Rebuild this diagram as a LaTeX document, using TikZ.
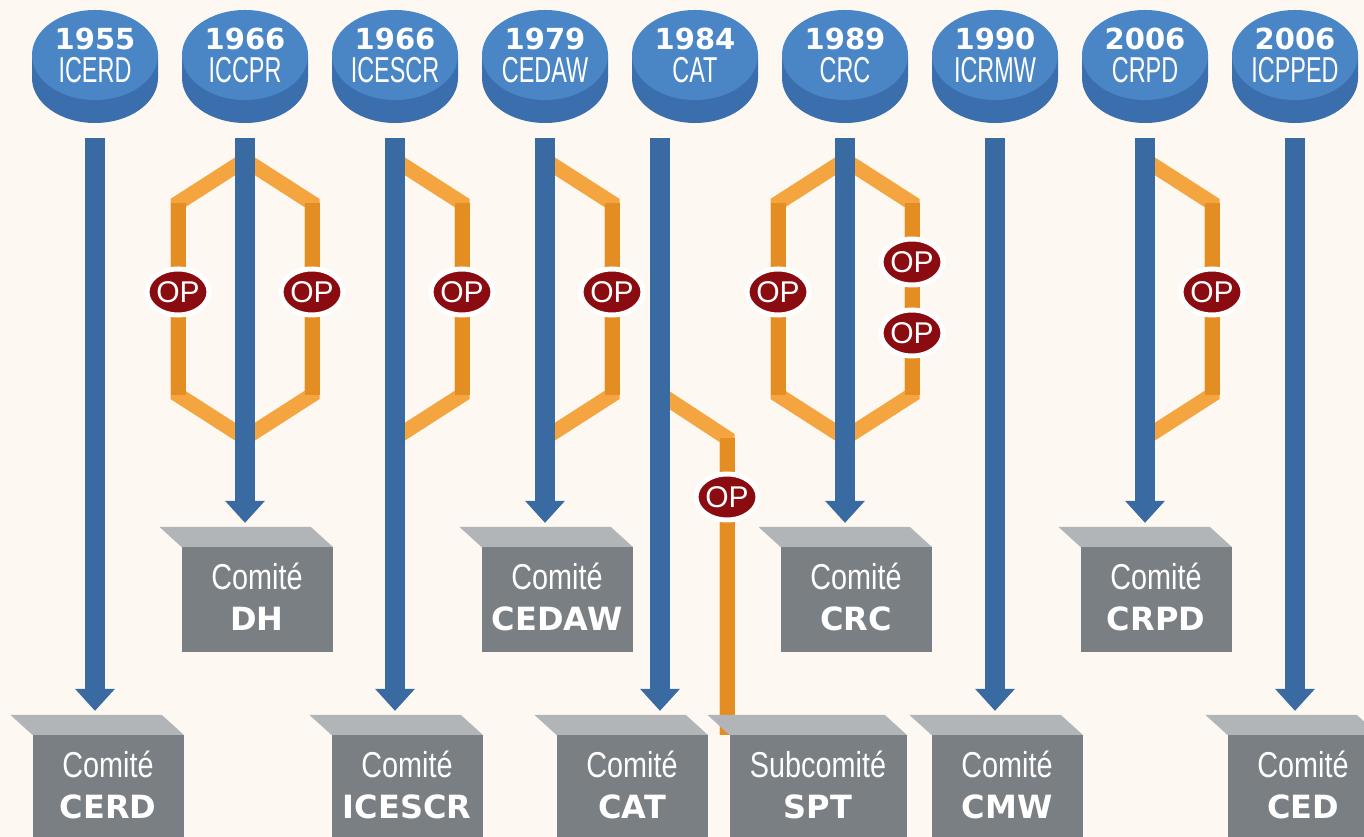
\documentclass[tikz,border=0pt]{standalone}
\usepackage{fontspec}
\setmainfont{Liberation Sans}
\newfontfamily\condfont[FakeStretch=0.65]{Liberation Sans}
\newfontfamily\narrowfont[FakeStretch=0.8]{Liberation Sans}
\newfontfamily\heavyfont{DejaVu Sans}
\usetikzlibrary{arrows.meta,shapes.geometric}

\definecolor{paper}{HTML}{FDF9F2}
\definecolor{disctop}{HTML}{4A86C6}
\definecolor{discside}{HTML}{3A6EAD}
\definecolor{blueline}{HTML}{3A6AA2}
\definecolor{protlight}{HTML}{F4A540}
\definecolor{protdark}{HTML}{E48D22}
\definecolor{opred}{HTML}{8A0B10}
\definecolor{boxfront}{HTML}{7A7F83}
\definecolor{boxtop}{HTML}{B2B5B7}

\tikzset{
  disc/.style={ellipse, fill=disctop, minimum width=126pt, minimum height=90pt,
    inner sep=0pt, text=white, align=center, font=\condfont\fontsize{36}{33}\selectfont},
  flow/.style={draw=blueline, line width=20pt,
    -{Triangle[width=40pt,length=22pt,line width=0pt]}, shorten <=38pt, shorten >=24pt},
  protocol/.style={draw=protlight, line width=15pt, line join=miter},
  protside/.style={draw=protdark, line width=15pt},
  opnode/.style={ellipse, fill=opred, draw=white, line width=5pt, minimum width=62pt,
    minimum height=46pt, inner sep=0pt, text=white, font=\fontsize{30}{30}\selectfont},
  comite/.style={fill=boxfront, minimum width=151pt, minimum height=105pt, inner sep=0pt,
    text=white, align=center, text depth=6pt, font=\narrowfont\fontsize{36}{41}\selectfont}
}

% disc with year and treaty
\newcommand{\treaty}[4]{%
  \fill[discside] (#2-63,782) -- (#2-63,759) arc[start angle=180,end angle=360,x radius=63,y radius=45] -- (#2+63,782) -- cycle;
  \node[disc] (#1) at (#2,782) {{\heavyfont\bfseries\fontsize{29}{33}\selectfont #3}\\#4};}
% top face of a committee box
\newcommand{\lid}[1]{\fill[boxtop] (#1.north west) -- ++(-22,20) -- ([shift={(-22,20)}]#1.north east) -- (#1.north east) -- cycle;}
\newcommand{\shortname}[1]{{\heavyfont\bfseries\fontsize{32}{41}\selectfont #1}}

\begin{document}
\begin{tikzpicture}[x=1pt,y=1pt]
\useasboundingbox (0,0) rectangle (1364,837);
\clip (0,0) rectangle (1364,837);
\fill[paper] (0,0) rectangle (1364,837);

% treaties
\treaty{icerd}{95}{1955}{ICERD}
\treaty{iccpr}{245}{1966}{ICCPR}
\treaty{icescr}{395}{1966}{ICESCR}
\treaty{cedaw}{545}{1979}{CEDAW}
\treaty{cat}{695}{1984}{CAT}
\treaty{crc}{845}{1989}{CRC}
\treaty{icrmw}{995}{1990}{ICRMW}
\treaty{crpd}{1145}{2006}{CRPD}
\treaty{icpped}{1295}{2006}{ICPPED}

% committees
\node[comite] (boxdh) at (257,237.5) {Comité\\\shortname{DH}};
\node[comite] (boxcedaw) at (557,237.5) {Comité\\\shortname{CEDAW}};
\node[comite] (boxcrc) at (856,237.5) {Comité\\\shortname{CRC}};
\node[comite] (boxcrpd) at (1156,237.5) {Comité\\\shortname{CRPD}};
\node[comite] (boxcerd) at (108,49.5) {Comité\\\shortname{CERD}};
\node[comite] (boxicescr) at (407,49.5) {Comité\\\shortname{ICESCR}};
\node[comite] (boxcat) at (632,49.5) {Comité\\\shortname{CAT}};
\node[comite, minimum width=177pt] (boxspt) at (818,49.5) {Subcomité\\\shortname{SPT}};
\node[comite] (boxcmw) at (1007,49.5) {Comité\\\shortname{CMW}};
\node[comite] (boxced) at (1303,49.5) {Comité\\\shortname{CED}};

% optional protocols
\coordinate (catline) at ([xshift=-35pt]cat.south);
\draw[protocol] (245,677) -- (178,634) -- (178,442) -- (245,399) -- (312,442) -- (312,634) -- cycle;
\draw[protocol] (395,677) -- (462,634) -- (462,442) -- (395,399);
\draw[protocol] (545,677) -- (612,634) -- (612,442) -- (545,399);
\draw[protocol] (catline |- 0,443) -- (727,399) -- (727,0 |- boxspt.north);
\draw[protocol] (845,677) -- (778,634) -- (778,442) -- (845,399) -- (912,442) -- (912,634) -- cycle;
\draw[protocol] (1145,677) -- (1212,634) -- (1212,442) -- (1145,399);
\draw[protside] (178,634) -- (178,442) (312,634) -- (312,442) (462,634) -- (462,442)
  (612,634) -- (612,442) (727,399) -- (727,0 |- boxspt.north)
  (778,634) -- (778,442) (912,634) -- (912,442) (1212,634) -- (1212,442);

\lid{boxdh} \lid{boxcedaw} \lid{boxcrc} \lid{boxcrpd}
\lid{boxcerd} \lid{boxicescr} \lid{boxcat} \lid{boxspt} \lid{boxcmw} \lid{boxced}

% treaty to committee
\draw[flow] (icerd.south) -- (icerd.south |- boxcerd.north);
\draw[flow] (iccpr.south) -- (iccpr.south |- boxdh.north);
\draw[flow] (icescr.south) -- (icescr.south |- boxicescr.north);
\draw[flow] (cedaw.south) -- (cedaw.south |- boxcedaw.north);
\draw[flow] (catline) -- (catline |- boxcat.north);
\draw[flow] (crc.south) -- (crc.south |- boxcrc.north);
\draw[flow] (icrmw.south) -- (icrmw.south |- boxcmw.north);
\draw[flow] (crpd.south) -- (crpd.south |- boxcrpd.north);
\draw[flow] (icpped.south) -- (icpped.south |- boxced.north);

\node[opnode] (op1) at (178,545) {OP};
\node[opnode] (op2) at (312,545) {OP};
\node[opnode] (op3) at (462,545) {OP};
\node[opnode] (op4) at (612,545) {OP};
\node[opnode] (op5) at (727,340) {OP};
\node[opnode] (op6) at (778,545) {OP};
\node[opnode] (op7) at (912,575) {OP};
\node[opnode] (op8) at (912,504) {OP};
\node[opnode] (op9) at (1212,545) {OP};
\end{tikzpicture}
\end{document}
